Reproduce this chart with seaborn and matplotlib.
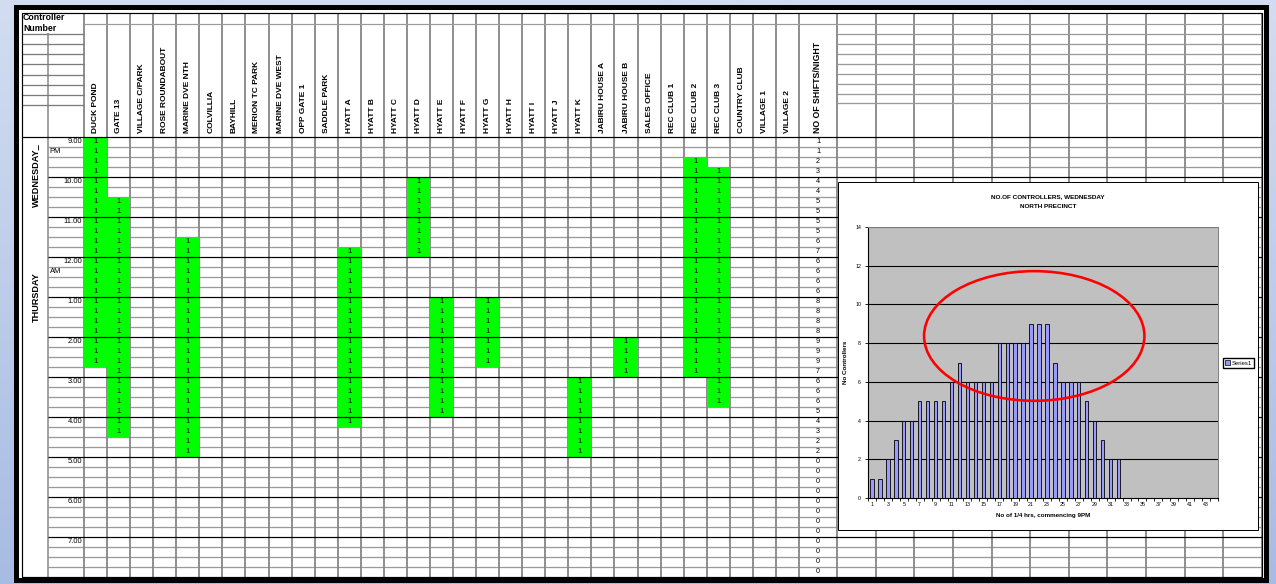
import numpy as np
import pandas as pd
import matplotlib
matplotlib.use("Agg")
import matplotlib.pyplot as plt
import seaborn as sns
from matplotlib.colors import ListedColormap, to_rgb
from matplotlib.patches import Rectangle, Ellipse, Patch

# ---------------- data ----------------
stations = ["DUCK POND", "GATE 13", "VILLAGE C/PARK", "ROSE ROUNDABOUT", "MARINE DVE NTH",
            "COLVILLIA", "BAYHILL", "MERION TC PARK", "MARINE DVE WEST", "OPP GATE 1",
            "SADDLE PARK", "HYATT A", "HYATT B", "HYATT C", "HYATT D", "HYATT E", "HYATT F",
            "HYATT G", "HYATT H", "HYATT I", "HYATT J", "HYATT K", "JABIRU HOUSE A",
            "JABIRU HOUSE B", "SALES OFFICE", "REC CLUB 1", "REC CLUB 2", "REC CLUB 3",
            "COUNTRY CLUB", "VILLAGE 1", "VILLAGE 2"]

# shifts: station, first quarter-hour row (0 = 9.00 PM), row after last
shift_station = ["DUCK POND", "GATE 13", "MARINE DVE NTH", "HYATT A", "HYATT D", "HYATT E",
                 "HYATT G", "HYATT K", "JABIRU HOUSE B", "REC CLUB 2", "REC CLUB 3"]
shift_start = [0, 6, 10, 11, 4, 16, 16, 24, 20, 2, 3]
shift_end = [23, 30, 32, 29, 12, 28, 23, 32, 24, 24, 27]

# NO OF SHIFTS/NIGHT column (one value per quarter hour)
shifts_per_quarter = [1, 1, 2, 3, 4, 4, 5, 5, 5, 5, 6, 7, 6, 6, 6, 6,
                      8, 8, 8, 8, 9, 9, 9, 7, 6, 6, 6, 5, 4, 3, 2, 2,
                      0, 0, 0, 0, 0, 0, 0, 0, 0, 0, 0, 0]
quarter_number = list(range(1, 45))

hour_labels = ["9.00", "10.00", "11.00", "12.00", "1.00", "2.00", "3.00",
               "4.00", "5.00", "6.00", "7.00"]

chart_title = ["NO.OF CONTROLLERS, WEDNESDAY", "NORTH PRECINCT"]

# ---------------- layout (pixels) ----------------
W, H = 1276, 584
X_LEFT, X_TIME, X_ST0, X_ST1, X_CNT1, X_END = 22, 48, 84, 799, 837, 1262
right_cols = [837, 876, 914, 953, 992, 1030, 1069, 1107, 1146, 1185, 1223, 1262]
Y_TOP, Y_DATA, Y_BOT = 12.5, 136.7, 577.0
NROWS = len(shifts_per_quarter)
RH = (Y_BOT - Y_DATA) / NROWS
NST = len(stations)
CW = (X_ST1 - X_ST0) / NST


def lw(px):
    return px * 0.72


def row_y(r):
    return Y_DATA + r * RH


FONT = ["Liberation Sans Narrow", "Liberation Sans", "DejaVu Sans"]
plt.rcParams["font.family"] = ["Liberation Sans", "DejaVu Sans"]

fig = plt.figure(figsize=(W / 100, H / 100), dpi=100)

# ---- background layer ----
bg = fig.add_axes([0, 0, 1, 1])
bg.set_xlim(0, W)
bg.set_ylim(H, 0)
bg.axis("off")
top_c, bot_c = np.array(to_rgb("#d2ddf1")), np.array(to_rgb("#a7bce3"))
t = np.linspace(0, 1, 200)[:, None, None]
grad = top_c * (1 - t) + bot_c * t
bg.imshow(grad, extent=(0, W, H, 0), aspect="auto", zorder=0)
bg.add_patch(Rectangle((16, 6.5), 1249.5, 573.5, facecolor="white",
                       edgecolor="black", lw=lw(5), zorder=1))
bg.add_patch(Rectangle((21.5, 12.5), 1240.5, 564.5, fill=False,
                       edgecolor="black", lw=lw(1.2), zorder=3))

GREY = "#9a9a9a"
# quarter-hour row lines
for r in range(1, NROWS):
    if r % 4:
        bg.hlines(row_y(r), X_TIME, X_END, color=GREY, lw=lw(1.3), zorder=2)
# column lines
col_edges = [X_ST0 + i * CW for i in range(NST + 1)]
for x in col_edges + right_cols:
    bg.vlines(x, Y_TOP, Y_BOT, color="#858585", lw=lw(1.8), zorder=2)
bg.vlines(X_TIME, 33, Y_BOT, color="#858585", lw=lw(1.5), zorder=2)
# header lines
bg.hlines(24, X_ST0, X_END, color=GREY, lw=lw(1.2), zorder=2)
for y in [33.5, 43.5, 54, 64, 74.5, 84.5, 95, 105]:
    bg.hlines(y, X_LEFT, X_ST0, color="#7a7a7a", lw=lw(1.3), zorder=2)
for y in [34, 44, 54, 64, 74, 84, 94, 103]:
    bg.hlines(y, X_CNT1, X_END, color=GREY, lw=lw(1.3), zorder=2)

# ---- schedule heat map (green cells) ----
sched = np.zeros((NROWS, NST), dtype=int)
for st, s0, s1 in zip(shift_station, shift_start, shift_end):
    sched[s0:s1, stations.index(st)] = 1
sched_df = pd.DataFrame(sched, columns=stations)
annot = np.where(sched == 1, "1", "")
hax = fig.add_axes([X_ST0 / W, 1 - Y_BOT / H, (X_ST1 - X_ST0) / W, (Y_BOT - Y_DATA) / H])
sns.heatmap(sched_df, mask=(sched == 0), cmap=ListedColormap(["#00ff00"]), vmin=0, vmax=1,
            cbar=False, annot=annot, fmt="", annot_kws={"fontsize": 5.5, "color": "black"},
            xticklabels=False, yticklabels=False, ax=hax)
hax.set_facecolor("none")
hax.patch.set_alpha(0)
hax.axis("off")

# ---- overlay: hour lines and texts ----
ov = fig.add_axes([0, 0, 1, 1])
ov.set_xlim(0, W)
ov.set_ylim(H, 0)
ov.axis("off")
ov.patch.set_alpha(0)
for r in range(0, NROWS, 4):
    ov.hlines(row_y(r), X_LEFT if r == 0 else X_TIME, X_END, color="black", lw=lw(1.2), zorder=2)

for i, name in enumerate(stations):
    ov.text(X_ST0 + (i + 0.5) * CW, 133, name, rotation=90, ha="center", va="bottom",
            fontsize=6.0, fontweight="bold", family=FONT)
ov.text((X_ST1 + X_CNT1) / 2, 133, "NO OF SHIFTS/NIGHT", rotation=90, ha="center",
        va="bottom", fontsize=6.3, fontweight="bold", family=FONT)
ov.text(23, 18, "Controller", ha="left", va="center", fontsize=6.3, fontweight="bold", family=FONT)
ov.text(23, 28.5, "Number", ha="left", va="center", fontsize=6.3, fontweight="bold", family=FONT)

for k, lab in enumerate(hour_labels):
    ov.text(82, row_y(4 * k) + RH / 2, lab, ha="right", va="center", fontsize=5.4, family=FONT)
ov.text(49.5, row_y(1) + RH / 2, "PM", ha="left", va="center", fontsize=5.4, family=FONT)
ov.text(49.5, row_y(13) + RH / 2, "AM", ha="left", va="center", fontsize=5.4, family=FONT)
ov.text(36, 175, "WEDNESDAY_", rotation=90, ha="center", va="center",
        fontsize=6.6, fontweight="bold", family=FONT)
ov.text(36, 297, "THURSDAY", rotation=90, ha="center", va="center",
        fontsize=6.6, fontweight="bold", family=FONT)
for r, v in enumerate(shifts_per_quarter):
    ov.text(818, row_y(r) + RH / 2, str(v), ha="center", va="center", fontsize=5.2, family=FONT)

# ---- embedded Excel chart ----
ov.add_patch(Rectangle((838, 182), 420, 348, facecolor="white", edgecolor="black",
                       lw=lw(1), zorder=10))
PX0, PX1, PY0, PY1 = 868, 1218, 227, 498
cax = fig.add_axes([PX0 / W, 1 - PY1 / H, (PX1 - PX0) / W, (PY1 - PY0) / H])
chart_df = pd.DataFrame({"quarter": quarter_number, "controllers": shifts_per_quarter})
sns.barplot(data=chart_df, x="quarter", y="controllers", color="#9999ff", saturation=1,
            edgecolor="black", linewidth=0.6, width=0.42, ax=cax, zorder=3)
cax.set_facecolor("#c0c0c0")
cax.set_xlim(-0.5, len(quarter_number) - 0.5)
cax.set_ylim(0, 14)
yt = [0, 2, 4, 6, 8, 10, 12, 14]
cax.set_yticks(yt)
cax.set_yticklabels([str(v) for v in yt], fontsize=3.8)
for v in yt[1:]:
    cax.axhline(v, color="black", lw=lw(1.1), zorder=1)
cax.set_xticks(range(0, len(quarter_number), 2))
cax.set_xticklabels([str(q) for q in quarter_number[::2]], fontsize=3.8)
cax.set_xticks(np.arange(-0.5, len(quarter_number), 1), minor=True)
cax.tick_params(axis="x", which="major", length=0, pad=3)
cax.tick_params(axis="x", which="minor", length=2.5, width=0.6)
cax.tick_params(axis="y", length=2.5, width=0.6, pad=2.5)
cax.set_xlabel("No of 1/4 hrs, commencing 9PM", fontsize=4.5, fontweight="bold", labelpad=4)
cax.set_ylabel("No Controllers", fontsize=4.5, fontweight="bold", labelpad=5)
for side in ["left", "bottom"]:
    cax.spines[side].set_color("black")
    cax.spines[side].set_linewidth(0.8)
for side in ["top", "right"]:
    cax.spines[side].set_color("#808080")
    cax.spines[side].set_linewidth(0.7)
cax.add_patch(Ellipse((20.4, 8.37), 27.7, 6.7, fill=False, edgecolor="red",
                      lw=lw(2.6), zorder=6, clip_on=False))

fig.text(1048 / W, 1 - 197 / H, chart_title[0], ha="center", va="center",
         fontsize=4.6, fontweight="bold")
fig.text(1048 / W, 1 - 206 / H, chart_title[1], ha="center", va="center",
         fontsize=4.6, fontweight="bold")
fig.legend(handles=[Patch(facecolor="#9999ff", edgecolor="black", lw=0.5)], labels=["Series1"],
           loc="center", bbox_to_anchor=(1238.5 / W, 1 - 363 / H), fontsize=4.2,
           frameon=True, fancybox=False, edgecolor="black", framealpha=1,
           handlelength=0.7, handleheight=0.7, handletextpad=0.3, borderpad=0.35)

fig.savefig("out.png", dpi=100)
